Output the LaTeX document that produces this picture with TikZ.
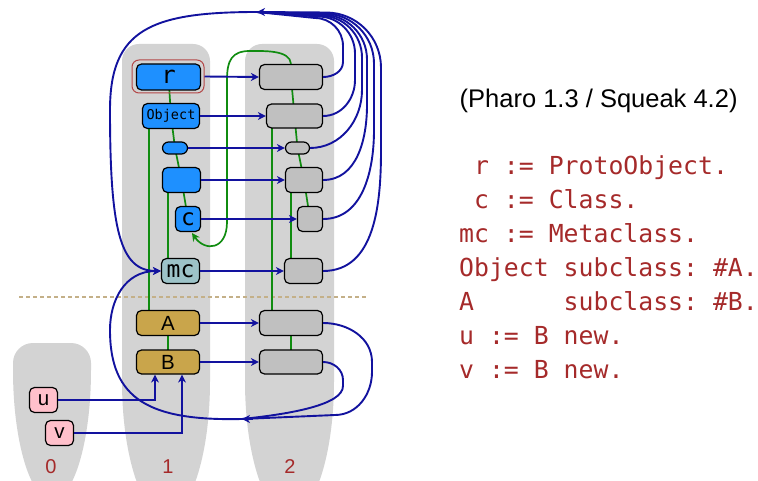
\documentclass[tikz,border=0pt]{standalone}
\usepackage{fontspec}
\setmainfont{Liberation Sans}
\newfontfamily\monof{DejaVu Sans Mono}
\usetikzlibrary{arrows.meta,fit}
\frenchspacing
\definecolor{colgray}{RGB}{211,211,211}
\definecolor{nodegray}{RGB}{192,192,192}
\definecolor{clsblue}{RGB}{30,144,255}
\definecolor{mcfill}{RGB}{157,195,200}
\definecolor{goldfill}{RGB}{201,165,75}
\definecolor{pinkfill}{RGB}{255,192,203}
\definecolor{lineblue}{RGB}{18,18,158}
\definecolor{supgreen}{RGB}{16,140,16}
\definecolor{codered}{RGB}{165,42,42}
\definecolor{dashtan}{RGB}{196,176,136}
\definecolor{rborder}{RGB}{180,72,72}
\pgfdeclarelayer{background}
\pgfsetlayers{background,main}
\begin{document}
\begin{tikzpicture}[x=1pt,y=1pt,
  obj/.style={draw=black,line width=1.2pt,rounded corners=5pt,inner sep=0pt},
  cls/.style={obj,fill=clsblue},
  mcls/.style={obj,fill=nodegray},
  ucls/.style={obj,fill=goldfill},
  inst/.style={obj,fill=pinkfill},
  big/.style={font=\monof\fontsize{23}{23}\selectfont},
  sans/.style={font=\fontsize{20.5}{20.5}\selectfont},
  sup/.style={draw=supgreen,line width=1.7pt},
  isa/.style={draw=lineblue,line width=1.9pt},
  tip/.style={-{Stealth[length=8pt,width=8pt,inset=2.5pt]}},
  gtip/.style={-{Stealth[length=8pt,width=8pt,inset=2.5pt]}},
  code/.style={anchor=base west,inner sep=0pt,text=codered,font=\monof\fontsize{24.8}{24.8}\selectfont},
  lbl/.style={anchor=base,inner sep=0pt,text=codered,font=\fontsize{20}{20}\selectfont}]
\useasboundingbox (0,0) rectangle (758,-481);

% ---- nodes, column 1
\node[cls,minimum width=64pt,minimum height=26pt] (r) at (168.5,-77) {\monof\fontsize{24}{24}\selectfont r};
\node[draw=rborder,line width=1pt,rounded corners=7pt,inner sep=0pt,fit={(132,-60) (204,-93)}] (rr) {};
\node[cls,minimum width=57pt,minimum height=25pt] (o) at (171,-116) {\monof\fontsize{13.5}{14}\selectfont Object};
\node[cls,minimum width=25pt,minimum height=12pt,rounded corners=6pt] (b) at (175,-148) {};
\node[cls,minimum width=38pt,minimum height=25pt] (cd) at (181.5,-180) {};
\node[cls,big,minimum width=25pt,minimum height=25pt] (c) at (188,-219) {c};
\node[obj,fill=mcfill,big,minimum width=38pt,minimum height=25pt] (mc) at (180.5,-271) {mc};
\node[ucls,sans,minimum width=63pt,minimum height=25pt] (A) at (168,-323) {A};
\node[ucls,sans,minimum width=63pt,minimum height=24pt] (B) at (168,-362) {B};

% ---- nodes, column 2
\node[mcls,minimum width=63pt,minimum height=25pt] (r2) at (291,-77) {};
\node[mcls,minimum width=56pt,minimum height=24pt] (o2) at (294.5,-116) {};
\node[mcls,minimum width=24pt,minimum height=12pt,rounded corners=6pt] (b2) at (297.5,-148) {};
\node[mcls,minimum width=37pt,minimum height=25pt] (cd2) at (304,-180) {};
\node[mcls,minimum width=25pt,minimum height=25pt] (c2) at (310,-219) {};
\node[mcls,minimum width=38pt,minimum height=25pt] (mc2) at (303.5,-271) {};
\node[mcls,minimum width=63pt,minimum height=25pt] (A2) at (291,-323) {};
\node[mcls,minimum width=63pt,minimum height=24pt] (B2) at (291,-362) {};

% ---- nodes, column 0
\node[inst,sans,minimum width=28pt,minimum height=25pt] (u) at (43.5,-400) {u};
\node[inst,sans,minimum width=28pt,minimum height=25pt] (v) at (59.5,-433) {v};

% ---- background: columns, separator, superclass links
\begin{pgfonlayer}{background}
\fill[colgray] (13,-370) -- (13,-363) to[out=90,in=180] (33,-343) -- (71,-343) to[out=0,in=90] (91,-363) -- (91,-370)
  arc[start angle=0,end angle=-180,x radius=39,y radius=130] -- cycle;
\fill[colgray] (122,-381) -- (122,-61) to[out=90,in=180] (139,-44) -- (193,-44) to[out=0,in=90] (210,-61) -- (210,-381)
  arc[start angle=0,end angle=-180,x radius=44,y radius=135] -- cycle;
\fill[colgray] (245,-381) -- (245,-61) to[out=90,in=180] (262,-44) -- (317,-44) to[out=0,in=90] (334,-61) -- (334,-381)
  arc[start angle=0,end angle=-180,x radius=44.5,y radius=135] -- cycle;
\draw[dashtan,line width=1.2pt,dash pattern=on 4pt off 3pt] (19,-297) -- (366,-297);
\draw[sup] (r.center) -- (o.center) -- (b.center) -- (cd.center) -- (c.center);
\draw[sup] (149,0 |- o.center) -- (149,0 |- A.center);
\draw[sup] (168,0 |- cd.center) -- (168,0 |- mc.center);
\draw[sup] (A.center) -- (B.center);
\draw[sup] (r2.center) -- (o2.center) -- (b2.center) -- (cd2.center) -- (c2.center);
\draw[sup] (272,0 |- o2.center) -- (272,0 |- A2.center);
\draw[sup] (291,0 |- cd2.center) -- (291,0 |- mc2.center);
\draw[sup] (A2.center) -- (B2.center);
\end{pgfonlayer}

% ---- superclass of the root metaclass
\coordinate (cbot) at (192,-233);
\draw[sup,gtip] (r2.north) .. controls (290,-50) and (265,-51) .. (250,-51)
  .. controls (232,-51) and (227,-60) .. (227,-80) -- (227,-222)
  .. controls (227,-250) and (205,-252) .. (cbot);

% ---- instance-of arrows
\draw[isa,tip] (rr.east) -- (r2.west);
\draw[isa,tip] (o) -- (o2);
\draw[isa,tip] (b) -- (b2);
\draw[isa,tip] (cd) -- (cd2);
\draw[isa,tip] (c) -- (c2);
\draw[isa,tip] (mc) -- (mc2);
\draw[isa,tip] (A) -- (A2);
\draw[isa,tip] (B) -- (B2);
\draw[isa,tip] (u.east) -| ([xshift=-13pt]B.south);
\draw[isa,tip] (v.east) -| ([xshift=14pt]B.south);

% metaclasses -> Metaclass (top junction)
\coordinate (J1) at (257,-12);
\coordinate (J1b) at (268,-12);
\draw[isa] (r2.east) to[out=0,in=-90] (343,-62) -- (343,-46) to[out=90,in=0] (315,-18) -- (J1);
\draw[isa] (o2.east) to[out=0,in=-90] (355,-80) -- (355,-53.5) to[out=90,in=0] (318,-16.5) -- (J1);
\draw[isa] (b2.east) to[out=0,in=-90] (362,-90) -- (362,-57.5) to[out=90,in=0] (320,-15.5) -- (J1);
\draw[isa] (cd2.east) to[out=0,in=-90] (367,-105) -- (367,-59.5) to[out=90,in=0] (322,-14.5) -- (J1);
\draw[isa] (c2.east) to[out=0,in=-90] (374,-130) -- (374,-63.5) to[out=90,in=0] (324,-13.5) -- (J1);
\draw[isa] (mc2.east) to[out=0,in=-90] (381,-150) -- (381,-67.5) to[out=90,in=0] (326,-12.5) -- (J1);
\draw[isa,tip] (J1b) -- (J1);
\draw[isa,tip] (J1) .. controls (150,-12) and (110,-30) .. (110,-110)
  .. controls (110,-230) and (120,-271) .. (mc.west);

% A class, B class -> Metaclass (bottom junction)
\coordinate (J2) at (242,-419);
\coordinate (J2b) at (253,-419);
\draw[isa] (A2.east) to[out=0,in=90] (372,-362) -- (372,-372) to[out=-90,in=0] (335,-415) -- (J2);
\draw[isa] (B2.east) to[out=0,in=90] (343,-380) -- (343,-386) .. controls (343,-405) and (290,-414) .. (J2);
\draw[isa,tip] (J2b) -- (J2);
\draw[isa,tip] (J2) .. controls (150,-421) and (110,-400) .. (110,-330)
  .. controls (110,-300) and (125,-271) .. (mc.west);

% ---- column labels
\node[lbl] (l0) at (51,-473) {0};
\node[lbl] (l1) at (168,-473) {1};
\node[lbl] (l2) at (290,-473) {2};

% ---- text
\node[anchor=base west,inner sep=0pt,font=\fontsize{25.5}{25.5}\selectfont] (hdr) at (459.5,-107.5) {(Pharo 1.3 / Squeak 4.2)};
\node[code] (t1) at (459,-175) {\ r := ProtoObject.};
\node[code] (t2) at (459,-208.9) {\ c := Class.};
\node[code] (t3) at (459,-242.8) {mc := Metaclass.};
\node[code] (t4) at (459,-276.7) {Object subclass: \#A.};
\node[code] (t5) at (459,-310.6) {A\ \ \ \ \ \ subclass: \#B.};
\node[code] (t6) at (459,-344.5) {u := B new.};
\node[code] (t7) at (459,-378.4) {v := B new.};
\end{tikzpicture}
\end{document}
